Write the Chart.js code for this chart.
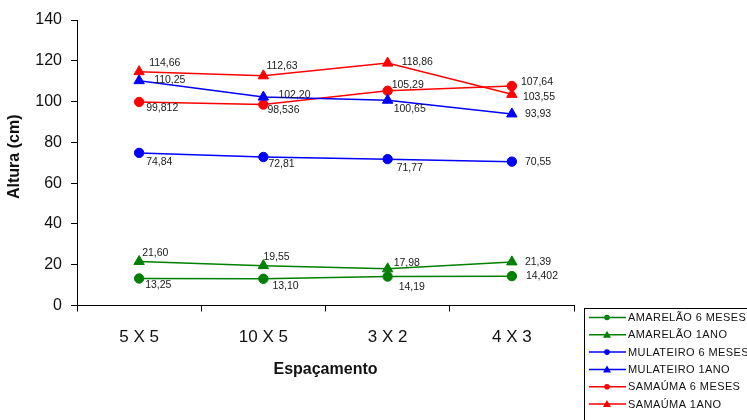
<!DOCTYPE html>
<html>
<head>
<meta charset="utf-8">
<script src="https://cdn.jsdelivr.net/npm/chart.js@4/dist/chart.umd.min.js"></script>
<style>
  html, body { margin: 0; padding: 0; background: #fff; }
  #wrap { width: 747px; height: 420px; }
</style>
</head>
<body>
<div id="wrap"><canvas id="c" width="747" height="420"></canvas></div>
<script>
// Spacing treatments on the x axis
const categories = ['5 X 5', '10 X 5', '3 X 2', '4 X 3'];

// Mean height (cm) per series, written as printed (decimal comma)
const amarelao6 = ['13,25', '13,10', '14,19', '14,402'];
const amarelao1 = ['21,60', '19,55', '17,98', '21,39'];
const mulateiro6 = ['74,84', '72,81', '71,77', '70,55'];
const mulateiro1 = ['110,25', '102,20', '100,65', '93,93'];
const samauma6 = ['99,812', '98,536', '105,29', '107,64'];
const samauma1 = ['114,66', '112,63', '118,86', '103,55'];

const seriesNames = ['AMARELÃO 6 MESES', 'AMARELÃO 1ANO', 'MULATEIRO 6 MESES',
                     'MULATEIRO 1ANO', 'SAMAÚMA 6 MESES', 'SAMAÚMA 1ANO'];

const yMin = 0, yMax = 140, yStep = 20;
const yTitle = 'Altura (cm)';

const toNum = s => parseFloat(s.replace(',', '.'));

const FONT = "'Liberation Sans', Arial, sans-serif";
const GREEN = '#008000', BLUE = '#0000ff', RED = '#ff0000';

// label placement relative to each point: [dx, dy] (left edge, vertical centre)
const labelOffsets = [
  [[6, 7], [9, 7], [11, 11], [14, 0]],
  [[3, -8], [0, -9], [6, -6], [13, 0]],
  [[7, 9], [5, 7], [9, 9], [13, 0]],
  [[15, -1], [15, -2], [6, 9], [13, 0]],
  [[7, 6], [4, 6], [4, -6], [9, -4]],
  [[10, -9], [3, -10], [14, -1], [11, 3]]
];

function series(name, strs, color, style) {
  return {
    label: name,
    data: strs.map(toNum),
    valueText: strs,
    borderColor: color,
    backgroundColor: color,
    borderWidth: 1.5,
    pointStyle: style,
    pointRadius: style === 'triangle' ? 6 : 4.7,
    pointBorderWidth: 1,
    pointBorderColor: color,
    pointBackgroundColor: color,
    tension: 0,
    fill: false
  };
}

const datasets = [
  series(seriesNames[0], amarelao6, GREEN, 'circle'),
  series(seriesNames[1], amarelao1, GREEN, 'triangle'),
  series(seriesNames[2], mulateiro6, BLUE, 'circle'),
  series(seriesNames[3], mulateiro1, BLUE, 'triangle'),
  series(seriesNames[4], samauma6, RED, 'circle'),
  series(seriesNames[5], samauma1, RED, 'triangle')
];

// value text next to every point
const valueLabels = {
  id: 'valueLabels',
  afterDatasetsDraw(chart) {
    const ctx = chart.ctx;
    ctx.save();
    ctx.font = '10.5px ' + FONT;
    ctx.fillStyle = '#1a1a1a';
    ctx.textAlign = 'left';
    ctx.textBaseline = 'middle';
    chart.data.datasets.forEach((ds, i) => {
      const meta = chart.getDatasetMeta(i);
      meta.data.forEach((pt, j) => {
        const [dx, dy] = labelOffsets[i][j];
        ctx.fillText(ds.valueText[j], pt.x + dx, pt.y + dy);
      });
    });
    ctx.restore();
  }
};

// rotated y-axis title, centred a little above the middle of the axis
const yAxisTitle = {
  id: 'yAxisTitle',
  afterDraw(chart) {
    const ctx = chart.ctx;
    const area = chart.chartArea;
    ctx.save();
    ctx.translate(15, (area.top + area.bottom) / 2 - 6);
    ctx.rotate(-Math.PI / 2);
    ctx.font = 'bold 16px ' + FONT;
    ctx.fillStyle = '#111';
    ctx.textAlign = 'center';
    ctx.textBaseline = 'middle';
    ctx.fillText(yTitle, 0, 0);
    ctx.restore();
  }
};

// boxed legend in the lower-right corner
const boxLegend = {
  id: 'boxLegend',
  afterDraw(chart) {
    const ctx = chart.ctx;
    const left = 584.5, top = 308.5;
    ctx.save();
    ctx.strokeStyle = '#000';
    ctx.lineWidth = 1;
    ctx.strokeRect(left, top, 300, 200);
    ctx.font = '11px ' + FONT;
    ctx.letterSpacing = '0.4px';
    ctx.textBaseline = 'middle';
    ctx.textAlign = 'left';
    chart.data.datasets.forEach((ds, i) => {
      const y = 317.5 + i * 17.3;
      ctx.strokeStyle = ds.borderColor;
      ctx.lineWidth = 1.5;
      ctx.beginPath();
      ctx.moveTo(589, y);
      ctx.lineTo(626, y);
      ctx.stroke();
      ctx.fillStyle = ds.borderColor;
      ctx.beginPath();
      if (ds.pointStyle === 'triangle') {
        ctx.moveTo(607, y - 4);
        ctx.lineTo(611, y + 3);
        ctx.lineTo(603, y + 3);
        ctx.closePath();
      } else {
        ctx.arc(607, y, 2.8, 0, Math.PI * 2);
      }
      ctx.fill();
      ctx.fillStyle = '#111';
      ctx.fillText(ds.label, 628, y + 0.5);
    });
    ctx.restore();
  }
};

new Chart(document.getElementById('c'), {
  type: 'line',
  data: { labels: categories, datasets },
  plugins: [valueLabels, yAxisTitle, boxLegend],
  options: {
    responsive: false,
    animation: false,
    events: [],
    layout: { padding: { top: 20, right: 173, left: 0, bottom: 0 } },
    plugins: { legend: { display: false }, tooltip: { enabled: false } },
    scales: {
      x: {
        offset: true,
        afterFit: s => { s.height = 114.5; },
        grid: { offset: true, drawOnChartArea: false, drawTicks: true, tickLength: 6, color: '#000', lineWidth: 1 },
        border: { display: true, color: '#000', width: 1 },
        ticks: { color: '#111', font: { family: FONT, size: 17 }, padding: 16, maxRotation: 0 },
        title: { display: true, text: 'Espaçamento', color: '#111',
                 font: { family: FONT, size: 16, weight: 'bold' }, padding: { top: 0, bottom: 41 } }
      },
      y: {
        min: yMin, max: yMax,
        afterFit: s => { s.width = 77; },
        grid: { drawOnChartArea: false, drawTicks: true, tickLength: 6, color: '#000', lineWidth: 1 },
        border: { display: true, color: '#000', width: 1 },
        ticks: { stepSize: yStep, color: '#111', font: { family: FONT, size: 16 }, padding: 9 }
      }
    }
  }
});
</script>
</body>
</html>
